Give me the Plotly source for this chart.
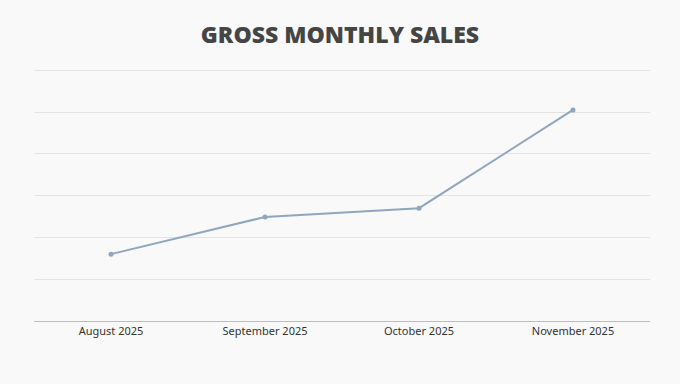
import plotly.graph_objects as go

months = ["August 2025", "September 2025", "October 2025", "November 2025"]
sales = [16000, 24900, 27000, 50500]
y_ticks = [0, 10000, 20000, 30000, 40000, 50000, 60000]

fig = go.Figure()
fig.add_trace(go.Scatter(
    x=months, y=sales, mode="lines+markers",
    line=dict(color="#8ea7be", width=2),
    marker=dict(color="#8ea7be", size=5),
    hoverinfo="x+y", showlegend=False,
))

fig.update_layout(
    width=680, height=384,
    paper_bgcolor="#f9f9f9", plot_bgcolor="#f9f9f9",
    margin=dict(l=34, r=30, t=69, b=63),
    title=dict(text="GROSS MONTHLY SALES", x=0.5, xanchor="center",
               y=0.91, yanchor="middle",
               font=dict(family="Open Sans", size=23, color="#454545", weight=800)),
    font=dict(family="Noto Sans", size=11, color="#333333"),
)
fig.update_xaxes(
    type="category", range=[-0.5, 3.5],
    showgrid=False, showline=True, linecolor="#bdbdbd", linewidth=1,
    ticks="", tickfont=dict(size=11, color="#333333"),
)
fig.update_yaxes(
    range=[0, 60300], tickvals=y_ticks, showticklabels=False,
    showgrid=True, gridcolor="#e4e4e4", gridwidth=1, zeroline=False,
    showline=False,
)

fig.write_html("out.html", config={"displayModeBar": False},
               post_script="document.body.style.margin='0';document.body.style.background='#f9f9f9';")
